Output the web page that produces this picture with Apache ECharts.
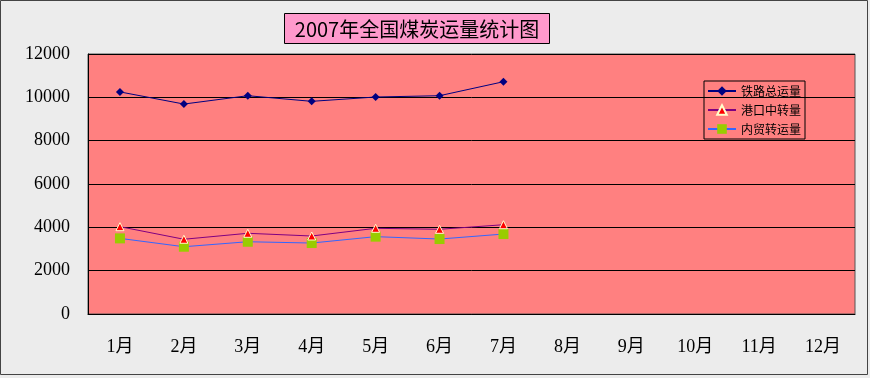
<!DOCTYPE html>
<html><head><meta charset="utf-8">
<script src="https://cdn.jsdelivr.net/npm/echarts@6/dist/echarts.min.js"></script>
<style>html,body{margin:0;padding:0;background:#fff}#c{width:870px;height:378px}</style>
</head><body><div id="c"></div>
<script>
var titleText = '2007年全国煤炭运量统计图';
var months = ['1月','2月','3月','4月','5月','6月','7月','8月','9月','10月','11月','12月'];
var railTotal = [10250, 9690, 10075, 9815, 10015, 10075, 10720];
var portTransfer = [4030, 3450, 3725, 3600, 3955, 3910, 4120];
var domesticTransfer = [3490, 3105, 3335, 3275, 3570, 3460, 3690];
var yTicks = {min: 0, max: 12000, interval: 2000};

var serif = '"Liberation Serif","DejaVu Serif","Noto Sans CJK SC",serif';
var chart = echarts.init(document.getElementById('c'));
chart.setOption({
  backgroundColor: '#ECECEC',
  animation: false,
  graphic: [
    {type:'rect', shape:{x:0.5,y:0.5,width:867,height:374}, style:{fill:'none',stroke:'#444',lineWidth:1}, z:100},
    {type:'rect', shape:{x:284.5,y:13.5,width:265,height:30}, style:{fill:'#FF99CC',stroke:'#000',lineWidth:1}, z:10},
    {type:'text', x:417, y:29, style:{text:titleText, fill:'#000', font:'20px "Noto Sans CJK SC",sans-serif', textAlign:'center', textVerticalAlign:'middle'}, z:11}
  ],
  grid: {left: 88, right: 15, top: 54, bottom: 64, show: true, backgroundColor: '#FF8080', borderColor: '#555', borderWidth: 1},
  legend: {
    orient: 'vertical', left: 704, top: 81,
    borderColor: '#000', borderWidth: 1, padding: [3, 4, 3, 3],
    itemWidth: 28, itemHeight: 12, itemGap: 5,
    textStyle: {fontSize: 12, lineHeight: 14, color: '#000', fontFamily: '"Noto Sans CJK SC",sans-serif'},
    data: ['铁路总运量','港口中转量','内贸转运量']
  },
  xAxis: {
    type: 'category', data: months, boundaryGap: true,
    axisLine: {lineStyle: {color: '#000'}},
    axisTick: {inside: true, length: 5, lineStyle: {color: '#000'}},
    axisLabel: {color: '#000', fontSize: 18, fontFamily: serif, margin: 24}
  },
  yAxis: {
    type: 'value', min: yTicks.min, max: yTicks.max, interval: yTicks.interval,
    axisLine: {show: true, lineStyle: {color: '#000'}},
    axisTick: {show: false},
    splitLine: {lineStyle: {color: '#000', width: 1}},
    axisLabel: {color: '#000', fontSize: 18, fontFamily: serif, margin: 18, formatter: function (v) { return String(v); }}
  },
  series: [
    {name:'铁路总运量', type:'line', data: railTotal, symbol:'diamond', symbolSize: 8,
      lineStyle:{color:'#000080', width:1}, itemStyle:{color:'#000080'}},
    {name:'港口中转量', type:'line', data: portTransfer, symbol:'triangle', symbolSize: 8,
      lineStyle:{color:'#800080', width:1}, itemStyle:{color:'#FF0000', borderColor:'#FFFFCC', borderWidth:1}},
    {name:'内贸转运量', type:'line', data: domesticTransfer, symbol:'rect', symbolSize: 10,
      lineStyle:{color:'#3366FF', width:1}, itemStyle:{color:'#99CC00'}, z: 1}
  ]
});
</script></body></html>
